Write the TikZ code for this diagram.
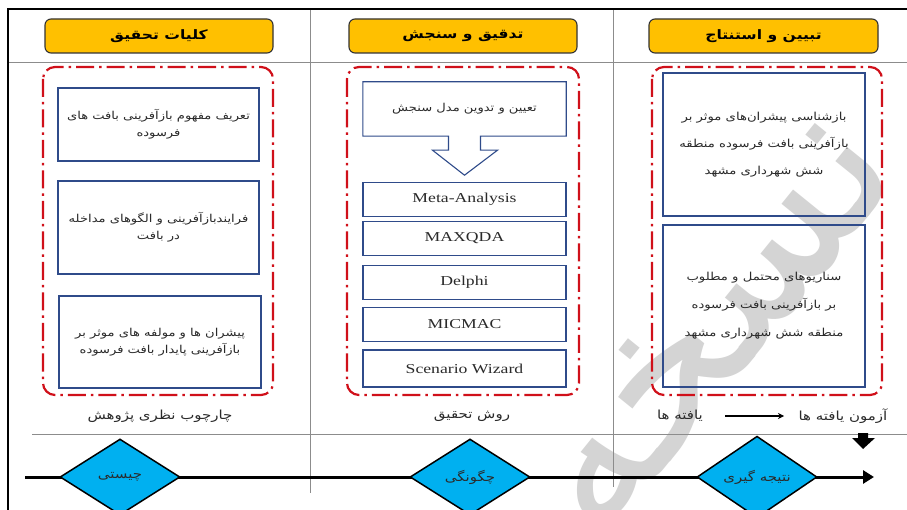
\documentclass[tikz,border=0pt]{standalone}
\usepackage{fontspec}
\setmainfont{Liberation Serif}
\newfontfamily\arabicfont[Script=Arabic,FakeStretch=1.2]{DejaVu Sans}
\newfontfamily\wmfont[Script=Arabic]{DejaVu Sans}
\newfontfamily\latfont[FakeStretch=1.3]{Liberation Serif}
\TeXXeTstate=1
\newcommand{\fa}[1]{{\arabicfont\beginR #1\endR}}
\usetikzlibrary{shapes.geometric,arrows.meta}
\definecolor{hdr}{HTML}{FFC000}
\definecolor{redd}{HTML}{D0101A}
\definecolor{bluebd}{HTML}{2F4B8A}
\definecolor{cyanf}{HTML}{00B0F0}
\definecolor{txt}{HTML}{2A2A2A}
\definecolor{wmgray}{HTML}{D4D4D4}
\tikzset{
  hdrbox/.style={draw=black!80, line width=1.1pt, fill=hdr, rounded corners=6pt,
    minimum width=228pt, minimum height=34pt, inner sep=0pt,
    font=\arabicfont\bfseries\fontsize{13}{15}\selectfont},
  redbox/.style={draw=redd, line width=2.2pt, rounded corners=12pt,
    dash pattern=on 18pt off 5pt on 2.5pt off 5pt},
  bluebox/.style={draw=bluebd, line width=1.1pt, inner sep=0pt, align=center, text=txt},
  tool/.style={bluebox, minimum width=203pt, minimum height=34pt,
    font=\latfont\fontsize{13.6}{15}\selectfont},
  gridline/.style={draw=black!45, line width=0.6pt},
  lbl/.style={inner sep=0pt, text=txt, font=\arabicfont\fontsize{12.5}{14}\selectfont},
  dia/.style={diamond, draw=black, line width=1.5pt, fill=cyanf, inner sep=0pt,
    minimum width=120pt, minimum height=76pt, font=\arabicfont\fontsize{12.5}{14}\selectfont, text=txt},
}
\begin{document}
\begin{tikzpicture}[x=1pt,y=-1pt]
\useasboundingbox (0,0) rectangle (907,510);
\clip (0,0) rectangle (907,510);
\fill[white] (0,0) rectangle (907,510);
% watermark (behind everything)
\node[rotate=51, text=wmgray, inner sep=0pt,
  font=\wmfont\fontsize{205}{205}\selectfont] (wm) at (712,325) {\beginR نسخه\endR};
% frame
\draw[gridline] (8,62) -- (907,62);
\draw[gridline] (32,434) -- (907,434);
\draw[gridline] (310,9) -- (310,493);
\draw[gridline] (613,9) -- (613,487);
\draw[black, line width=1.6pt] (907,9) -- (8,9) -- (8,515);
% headers
\node[hdrbox] (h1) at (159,36) {\fa{کلیات تحقیق}};
\node[hdrbox] (h2) at (463,36) {\fa{تدقیق و سنجش}};
\node[hdrbox, minimum width=229pt] (h3) at (763.5,36) {\fa{تبیین و استنتاج}};
% red frames
\draw[redbox] (43,67) rectangle (273,395);
\draw[redbox] (347,67) rectangle (579,395);
\draw[redbox] (652,67) rectangle (882,395);
% column 1
\node[bluebox, minimum width=201pt, minimum height=73pt, font=\arabicfont\fontsize{10.9}{17}\selectfont] (b11) at (158.5,124.5)
  {\fa{تعریف مفهوم بازآفرینی بافت های}\\\fa{فرسوده}};
\node[bluebox, minimum width=201pt, minimum height=93pt, font=\arabicfont\fontsize{10.9}{17}\selectfont] (b12) at (158.5,227.5)
  {\fa{فرایندبازآفرینی و الگوهای مداخله}\\\fa{در بافت}};
\node[bluebox, minimum width=202pt, minimum height=92pt, font=\arabicfont\fontsize{10.9}{17}\selectfont] (b13) at (160,342)
  {\fa{پیشران ها و مولفه های موثر بر}\\\fa{بازآفرینی پایدار بافت فرسوده}};
% column 2
\node[inner sep=0pt, minimum width=203pt, minimum height=54pt, text=txt, font=\arabicfont\fontsize{10.9}{12}\selectfont] (t2) at (464.5,109) {\fa{تعیین و تدوین مدل سنجش}};
\draw[draw=bluebd, line width=1.1pt, line join=miter]
  (t2.south west) -- (t2.north west) -- (t2.north east) -- (t2.south east)
  -- ([xshift=16pt]t2.south) -- ++(0,14) -- ++(17,0) -- ++(-33,25)
  -- ++(-32,-25) -- ++(16,0) -- ++(0,-14) -- cycle;
\node[tool] (m1) at (464.5,199.5) {Meta-Analysis};
\node[tool] (m2) at (464.5,238.5) {MAXQDA};
\node[tool] (m3) at (464.5,282.5) {Delphi};
\node[tool] (m4) at (464.5,324.5) {MICMAC};
\node[tool, minimum height=37pt] (m5) at (464.5,368.5) {Scenario Wizard};
% column 3
\node[bluebox, minimum width=202pt, minimum height=143pt, font=\arabicfont\fontsize{11}{27}\selectfont] (c31) at (764,144.5)
  {\fa{بازشناسی پیشران‌های موثر بر}\\\fa{بازآفرینی بافت فرسوده منطقه}\\\fa{شش شهرداری مشهد}};
\node[bluebox, minimum width=202pt, minimum height=162pt, font=\arabicfont\fontsize{11}{28}\selectfont] (c32) at (764,306)
  {\fa{سناریوهای محتمل و مطلوب}\\\fa{بر بازآفرینی بافت فرسوده}\\\fa{منطقه شش شهرداری مشهد}};
% bottom labels
\node[lbl] (l1) at (160,416) {\fa{چارچوب نظری پژوهش}};
\node[lbl] (l2) at (472,416) {\fa{روش تحقیق}};
\node[lbl] (l3b) at (680,416) {\fa{یافته ها}};
\node[lbl] (l3a) at (843,416) {\fa{آزمون یافته ها}};
\coordinate (ya) at (725,416);
\coordinate (yb) at (784,416);
\draw[black, line width=1.3pt, -{Stealth[length=6pt,width=6pt]}] (ya) -- (yb);
% down block arrow
\fill[black] (858,433) -- (868,433) -- (868,438) -- (875,438) -- (863,449) -- (852,438) -- (858,438) -- cycle;
% timeline
\coordinate (tl0) at (25,477);
\coordinate (tl1) at (874,477);
\draw[black, line width=3pt, -{Triangle[length=11pt,width=13pt]}] (tl0) -- (tl1);
\node[dia] (d1) at (120,477) {\fa{چیستی}};
\node[dia] (d2) at (470,477) {\fa{چگونگی}};
\node[dia] (d3) at (757,477) {\fa{نتیجه گیری}};
\end{tikzpicture}
\end{document}
